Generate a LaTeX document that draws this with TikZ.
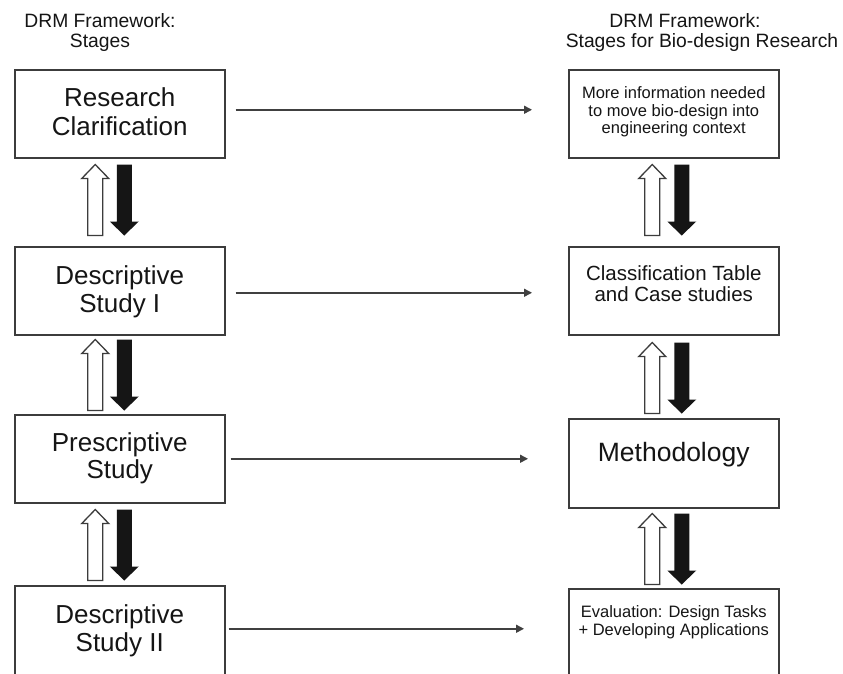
\documentclass[tikz,border=0pt]{standalone}
\usepackage{fontspec}
\setmainfont{Liberation Sans}
\usetikzlibrary{calc,arrows.meta}
\definecolor{boxgray}{HTML}{3C3C3C}
\definecolor{linegray}{HTML}{404040}
\definecolor{inkblack}{HTML}{151515}
\newcommand\stagetext[5]{\parbox[c][#1pt][t]{210pt}{\centering\fontsize{#2pt}{#3pt}\selectfont\vspace*{#4pt}\strut #5}}
% block arrows between stages: #1 upper node, #2 x offset white, #3 x offset black, #4 gap
\newcommand\updownpair[4]{%
  \path[draw=boxgray, line width=1.3pt, fill=white, line join=miter]
    let \p1=($(#1.south)+(#2,#4)$) in
    (\x1-7.5pt,\y1-71pt) -- (\x1-7.5pt,\y1-14pt) -- (\x1-13.5pt,\y1-14pt) -- (\x1,\y1)
    -- (\x1+13.5pt,\y1-14pt) -- (\x1+7.5pt,\y1-14pt) -- (\x1+7.5pt,\y1-71pt) -- cycle;
  \path[fill=inkblack]
    let \p2=($(#1.south)+(#3,#4)$) in
    (\x2-7.5pt,\y2) -- (\x2+7.5pt,\y2) -- (\x2+7.5pt,\y2-57pt) -- (\x2+14.5pt,\y2-57pt)
    -- (\x2,\y2-71pt) -- (\x2-14.5pt,\y2-57pt) -- (\x2-7.5pt,\y2-57pt) -- cycle;
}
\tikzset{
  stage/.style={draw=boxgray, line width=1.5pt, inner sep=0pt, anchor=north west, text=inkblack},
  harrow/.style={draw=linegray, line width=1.5pt, -{Triangle[length=8pt,width=8pt]}},
  headtext/.style={inner sep=0pt, align=center, text=inkblack, font=\fontsize{19.3pt}{20pt}\selectfont},
}
\begin{document}
\begin{tikzpicture}[x=1pt,y=-1pt]
\useasboundingbox (0,0) rectangle (843,673);
\clip (0,0) rectangle (843,673);
\fill[white] (0,0) rectangle (843,673);

% headers
\node[headtext, anchor=north] (hL) at (100,13) {DRM Framework:\\Stages};
\node[headtext, anchor=north] (hR) at (702,13) {DRM Framework:\hspace*{34pt}\\Stages for Bio-design Research};

% left column
\node[stage] (L1) at (14,69)  {\stagetext{88}{26}{28.5}{17}{Research\\Clarification}};
\node[stage] (L2) at (14,246) {\stagetext{88}{26}{28.5}{17.5}{Descriptive\\Study I}};
\node[stage] (L3) at (14,414) {\stagetext{88}{26}{27}{18}{Prescriptive\\Study}};
\node[stage] (L4) at (14,585) {\stagetext{100}{26}{28.5}{17.5}{Descriptive\\Study II}};

% right column
\node[stage] (R1) at (568,69)  {\stagetext{88}{16.5}{17.5}{16.7}{More information needed\\to move bio-design into\\engineering context}};
\node[stage] (R2) at (568,246) {\stagetext{88}{20.5}{21.5}{18.5}{Classification Table\\and Case studies}};
\node[stage] (R3) at (568,418) {\stagetext{89}{26.5}{28}{22.9}{Methodology}};
\node[stage] (R4) at (568,588) {\stagetext{100}{16.5}{18}{16}{Evaluation: Design Tasks\\+ Developing Applications}};

% block arrows
\updownpair{L1}{-24.5}{4.5}{6}
\updownpair{L2}{-24.5}{4.5}{4}
\updownpair{L3}{-24.5}{4.5}{6}
\updownpair{R1}{-21.5}{8}{6}
\updownpair{R2}{-21.5}{8}{7}
\updownpair{R3}{-21.5}{8}{5}

% horizontal arrows
\coordinate (a1) at ($(L1.east)+(10,-4)$);
\coordinate (b1) at ($(R1.west)+(-36,0)$);
\draw[harrow] (a1) -- (a1 -| b1);
\coordinate (a2) at ($(L2.east)+(10,2)$);
\coordinate (b2) at ($(R2.west)+(-36,0)$);
\draw[harrow] (a2) -- (a2 -| b2);
\coordinate (a3) at ($(L3.east)+(5,0)$);
\coordinate (b3) at ($(R3.west)+(-40,0)$);
\draw[harrow] (a3) -- (a3 -| b3);
\coordinate (a4) at ($(L4.east)+(3,-7)$);
\coordinate (b4) at ($(R4.west)+(-44,0)$);
\draw[harrow] (a4) -- (a4 -| b4);
\end{tikzpicture}
\end{document}
